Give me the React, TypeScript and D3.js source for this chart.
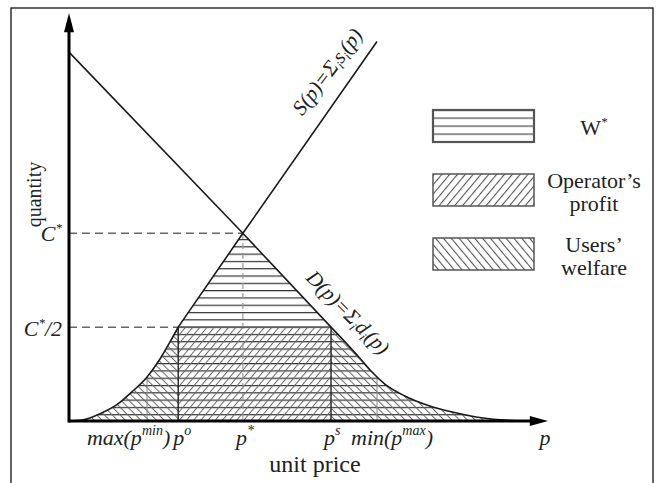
import * as d3 from "d3";

// price (p) and quantity (q) on a 0..100 scale, 100 = arrow tips
// supply: curved part near the origin, then a straight part
const supplyCurvePts: [number, number][] = [
  [0, 0], [3, 0.3], [6.5, 1.8], [10, 4], [13, 7], [16.3, 10.8],
  [19, 15.2], [21, 19.2], [22.8, 23],
];
const supplyLinePts: [number, number][] = [[22.8, 23], [36.3, 46], [64.3, 93]];
// demand: straight part, then curved tail
const demandLinePts: [number, number][] = [[0, 90.4], [36.3, 46], [54.7, 23]];
const demandCurvePts: [number, number][] = [
  [54.7, 23], [58, 18.9], [61, 15], [63, 12.3],
  [66, 9], [70, 6.2], [75, 3.8], [80, 2.2], [85, 1], [90, 0.3], [94, 0],
];

const P_MIN = 16.3;
const P_O = 22.8;
const P_STAR = 36.3;
const P_S = 54.7;
const P_MAX = 64.3;
const C_STAR = 46;

const legendItems = [
  { fill: "url(#hLeg)", lines: ["W*"] },
  { fill: "url(#slashLeg)", lines: ["Operator\u2019s", "profit"] },
  { fill: "url(#backLeg)", lines: ["Users\u2019", "welfare"] },
];

const W = 659;
const H = 483;
const serif = "'Liberation Serif', 'Times New Roman', serif";

export default function App() {
  const x = d3.scaleLinear().domain([0, 100]).range([69, 548]);
  const y = d3.scaleLinear().domain([0, 100]).range([421, 13]);

  const smooth = d3
    .line<[number, number]>()
    .x((d) => x(d[0]))
    .y((d) => y(d[1]))
    .curve(d3.curveMonotoneX);
  const straight = d3
    .line<[number, number]>()
    .x((d) => x(d[0]))
    .y((d) => y(d[1]));

  // joined paths: "M..." of the second piece becomes "L..."
  const supplyPath = smooth(supplyCurvePts)! + straight(supplyLinePts)!.replace(/^M/, "L");
  const demandPath = straight(demandLinePts)! + smooth(demandCurvePts)!.replace(/^M/, "L");

  const sLast = supplyLinePts[supplyLinePts.length - 1];
  const underS =
    supplyPath + `L${x(100)},${y(sLast[1])}L${x(100)},${y(0)}L${x(0)},${y(0)}Z`;
  const dLast = demandCurvePts[demandCurvePts.length - 1];
  const underD = demandPath + `L${x(dLast[0])},${y(0)}L${x(0)},${y(0)}Z`;

  const x0 = x(0);
  const y0 = y(0);
  const yHalf = y(C_STAR / 2);
  const yStar = y(C_STAR);

  return (
    <svg
      width={W}
      height={H}
      style={{ position: "absolute", left: 0, top: 0, background: "#fff" }}
      fontFamily={serif}
    >
      <defs>
        <pattern id="hLines" patternUnits="userSpaceOnUse" width={10} height={7.3} y={yHalf - 0.6}>
          <rect x={0} y={0} width={10} height={1.2} fill="#333" />
        </pattern>
        <pattern id="slash" patternUnits="userSpaceOnUse" width={5.5} height={10} patternTransform="rotate(40)">
          <rect x={0} y={0} width={1} height={10} fill="#666" />
        </pattern>
        <pattern id="back" patternUnits="userSpaceOnUse" width={5.5} height={10} patternTransform="rotate(-45)">
          <rect x={0} y={0} width={1} height={10} fill="#666" />
        </pattern>
        <pattern id="hLeg" patternUnits="userSpaceOnUse" width={10} height={8} y={109.5}>
          <rect x={0} y={0} width={10} height={1.2} fill="#444" />
        </pattern>
        <pattern id="slashLeg" patternUnits="userSpaceOnUse" width={6} height={10} patternTransform="rotate(40)">
          <rect x={0} y={0} width={1.1} height={10} fill="#555" />
        </pattern>
        <pattern id="backLeg" patternUnits="userSpaceOnUse" width={6} height={10} patternTransform="rotate(-40)">
          <rect x={0} y={0} width={1.1} height={10} fill="#555" />
        </pattern>
        <clipPath id="clipS">
          <path d={underS} />
        </clipPath>
        <clipPath id="clipD">
          <path d={underD} />
        </clipPath>
      </defs>

      {/* frame */}
      <rect x={11} y={8} width={642} height={490} fill="none" stroke="#111" strokeWidth={1.3} />

      {/* hatched regions under min(S, D) */}
      <g clipPath="url(#clipS)">
        <g clipPath="url(#clipD)">
          <rect x={x0} y={y(100)} width={x(100) - x0} height={y0 - y(100)} fill="url(#hLines)" />
          <rect x={x0} y={y(100)} width={x(P_O) - x0} height={y0 - y(100)} fill="url(#back)" />
          <rect x={x(P_S)} y={y(100)} width={x(100) - x(P_S)} height={y0 - y(100)} fill="url(#back)" />
          <rect x={x(P_O)} y={yHalf} width={x(P_S) - x(P_O)} height={y0 - yHalf} fill="url(#slash)" />
          {[P_MIN, P_MAX].map((p) => (
            <line key={p} x1={x(p)} x2={x(p)} y1={y(100)} y2={y0} stroke="#888" strokeWidth={1} />
          ))}
          <line x1={x(P_STAR)} x2={x(P_STAR)} y1={y(100)} y2={y0} stroke="#999" strokeWidth={1.2} strokeDasharray="6,4" />
        </g>
      </g>

      {/* rectangle borders of operator's profit */}
      {[P_O, P_S].map((p) => (
        <line key={p} x1={x(p)} x2={x(p)} y1={yHalf} y2={y0} stroke="#222" strokeWidth={1.4} />
      ))}
      <line x1={x(P_O)} x2={x(P_S)} y1={yHalf} y2={yHalf} stroke="#555" strokeWidth={1.2} />

      {/* dashed level lines */}
      <line x1={x0} x2={x(P_STAR)} y1={yStar} y2={yStar} stroke="#666" strokeWidth={1.5} strokeDasharray="8,5" />
      <line x1={x0} x2={x(P_O)} y1={yHalf} y2={yHalf} stroke="#666" strokeWidth={1.5} strokeDasharray="8,5" />

      {/* curves */}
      <path d={demandPath} fill="none" stroke="#1a1a1a" strokeWidth={1.6} />
      <path d={supplyPath} fill="none" stroke="#1a1a1a" strokeWidth={1.6} />

      {/* axes */}
      <line x1={x0} x2={x0} y1={y0 + 1.5} y2={y(96)} stroke="#000" strokeWidth={3} />
      <polygon points={`${x0},${y(100)} ${x0 - 5},${y(95.3)} ${x0 + 5},${y(95.3)}`} fill="#000" />
      <line x1={x0} x2={x(96.5)} y1={y0} y2={y0} stroke="#000" strokeWidth={3} />
      <polygon points={`${x(100)},${y0} ${x(96.2)},${y0 - 5} ${x(96.2)},${y0 + 5}`} fill="#000" />

      {/* y labels */}
      <text transform={`translate(41,${y(55.5)}) rotate(-90)`} textAnchor="middle" fontSize={20} fill="#222">
        quantity
      </text>
      <text x={x0 - 7} y={yStar + 8} textAnchor="end" fontSize={22} fontStyle="italic" fill="#222">
        C<tspan fontSize={13} dy={-9}>*</tspan>
      </text>
      <text x={x0 - 7} y={yHalf + 9} textAnchor="end" fontSize={22} fontStyle="italic" fill="#222">
        C<tspan fontSize={13} dy={-9}>*</tspan>
        <tspan dy={9}>/2</tspan>
      </text>

      {/* x labels */}
      <g fontSize={22} fontStyle="italic" fill="#222">
        <text x={x(P_O) - 8} y={445} textAnchor="end">
          max(p<tspan fontSize={14} dy={-10}>min</tspan>
          <tspan dy={10}>)</tspan>
        </text>
        <text x={x(P_O) - 5} y={445}>
          p<tspan fontSize={14} dy={-10}>o</tspan>
        </text>
        <text x={x(P_STAR) - 7} y={445}>
          p<tspan fontSize={14} dy={-10}>*</tspan>
        </text>
        <text x={x(P_S) - 7} y={445}>
          p<tspan fontSize={14} dy={-10}>s</tspan>
        </text>
        <text x={x(P_S) + 20} y={445}>
          min(p<tspan fontSize={14} dy={-10}>max</tspan>
          <tspan dy={10}>)</tspan>
        </text>
        <text x={x(100) - 3} y={445} textAnchor="middle">p</text>
      </g>
      <text x={315} y={472} textAnchor="middle" fontSize={24} fill="#222">
        unit price
      </text>

      {/* curve labels */}
      <text
        transform={`translate(${x(55.1)},${y(84.6)}) rotate(-53)`}
        textAnchor="middle"
        fontSize={21}
        fontStyle="italic"
        fill="#222"
      >
        S(p)=Σ<tspan fontSize={13} dy={4}>i</tspan>
        <tspan dy={-4}>s</tspan>
        <tspan fontSize={13} dy={4}>i</tspan>
        <tspan dy={-4}>(p)</tspan>
      </text>
      <text
        transform={`translate(${x(57.2)},${y(25.4)}) rotate(45.5)`}
        textAnchor="middle"
        fontSize={21}
        fontStyle="italic"
        fill="#222"
      >
        D(p)=Σ<tspan fontSize={13} dy={4}>i</tspan>
        <tspan dy={-4}>d</tspan>
        <tspan fontSize={13} dy={4}>i</tspan>
        <tspan dy={-4}>(p)</tspan>
      </text>

      {/* legend */}
      {legendItems.map((item, i) => {
        const top = 110 + i * 64;
        return (
          <g key={i}>
            <rect
              x={433}
              y={top}
              width={101}
              height={32}
              fill={item.fill}
              stroke="#555"
              strokeWidth={i === 0 ? 2.2 : 1.5}
            />
            {item.lines.map((t, j) => (
              <text
                key={j}
                x={594}
                y={item.lines.length === 1 ? top + 25 : top + 14 + j * 23}
                textAnchor="middle"
                fontSize={22}
                fill="#222"
              >
                {t === "W*" ? (
                  <>
                    W<tspan fontSize={13} dy={-9}>*</tspan>
                  </>
                ) : (
                  t
                )}
              </text>
            ))}
          </g>
        );
      })}
    </svg>
  );
}
